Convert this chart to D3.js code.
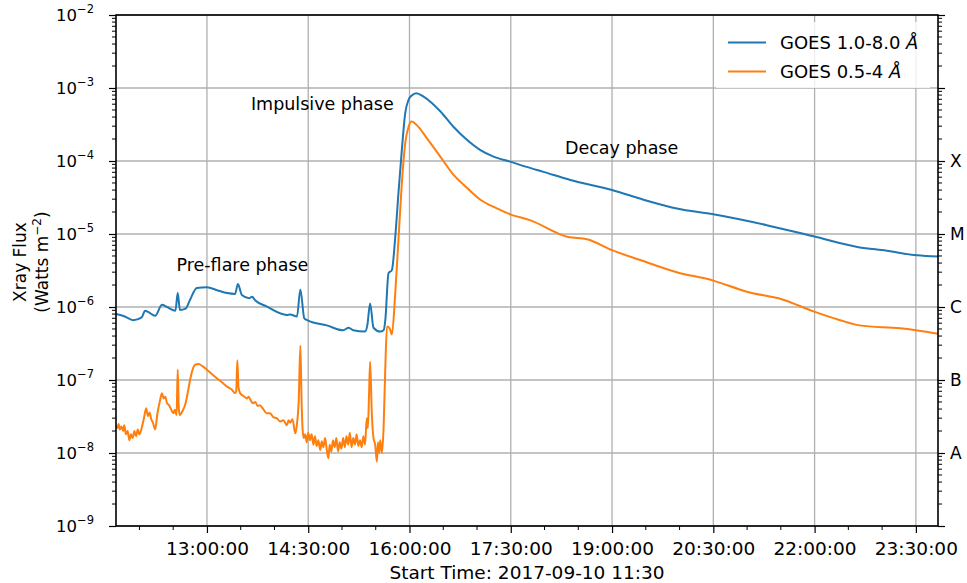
<!DOCTYPE html>
<html>
<head>
<meta charset="utf-8">
<script src="https://cdn.jsdelivr.net/npm/d3@7"></script>
<style>
  html, body { margin: 0; padding: 0; background: #fff; }
  svg { display: block; font-family: "DejaVu Sans", sans-serif; }
</style>
</head>
<body>
<svg id="chart" width="967" height="583"></svg>
<script>
// ---------------- data ----------------
const longTimes = ["11:39:10","11:47:00","11:54:30","12:02:00","12:05:00","12:08:00","12:14:00","12:20:00","12:24:30","12:32:00","12:34:00","12:36:00","12:41:00","12:45:00","12:51:00","13:00:00","13:09:00","13:18:00","13:25:00","13:27:30","13:31:00","13:37:30","13:40:00","13:43:00","13:53:00","14:11:00","14:14:00","14:20:00","14:23:00","14:26:30","14:30:00","14:46:30","15:01:00","15:06:00","15:10:00","15:20:30","15:22:30","15:25:00","15:28:00","15:34:00","15:37:00","15:38:30","15:41:20","15:44:20","15:47:20","15:50:10","15:53:10","15:56:10","15:59:10","16:02:00","16:06:00","16:12:30","16:18:30","16:27:20","16:39:00","16:51:00","17:03:00","17:14:40","17:29:30","17:44:00","17:59:00","18:23:00","19:00:00","19:28:00","19:57:30","20:30:00","21:17:30","21:59:00","22:39:00","23:04:00","23:31:00","23:49:40"];
const longFlux = [8.0e-7,7.4e-7,6.6e-7,7.2e-7,8.9e-7,8.5e-7,7.6e-7,1.07e-6,1.0e-6,8.9e-7,1.55e-6,9.1e-7,9.5e-7,1.26e-6,1.82e-6,1.86e-6,1.70e-6,1.55e-6,1.51e-6,2.07e-6,1.46e-6,1.32e-6,1.38e-6,1.23e-6,1.02e-6,7.8e-7,7.9e-7,7.4e-7,1.74e-6,7.0e-7,6.5e-7,5.6e-7,4.8e-7,5.2e-7,4.8e-7,4.6e-7,5.6e-7,1.12e-6,5.2e-7,4.6e-7,4.8e-7,6.6e-7,2.9e-6,3.2e-6,9.1e-6,3.6e-5,1.41e-4,4.5e-4,6.9e-4,7.9e-4,8.5e-4,7.6e-4,6.5e-4,4.8e-4,2.95e-4,1.95e-4,1.41e-4,1.15e-4,9.8e-5,8.3e-5,7.1e-5,5.5e-5,4.0e-5,2.95e-5,2.24e-5,1.86e-5,1.32e-5,9.3e-6,6.6e-6,5.9e-6,5.1e-6,4.9e-6];

const shortTimes = ["11:39:10","11:40:30","11:41:30","11:42:30","11:44:00","11:45:30","11:46:30","11:48:00","11:49:30","11:51:00","11:52:30","11:54:00","11:55:30","11:57:00","11:58:30","12:00:00","12:02:00","12:04:00","12:06:00","12:07:30","12:09:00","12:10:30","12:12:00","12:14:00","12:16:00","12:18:00","12:20:00","12:21:30","12:23:00","12:24:30","12:26:00","12:28:00","12:30:00","12:31:30","12:33:00","12:34:00","12:35:00","12:36:00","12:38:00","12:41:00","12:43:00","12:45:00","12:47:00","12:49:30","12:52:30","12:56:00","13:00:00","13:04:00","13:09:00","13:13:00","13:18:00","13:22:00","13:25:00","13:26:00","13:27:00","13:28:00","13:29:30","13:32:00","13:35:30","13:37:00","13:39:00","13:41:00","13:43:00","13:45:00","13:47:00","13:50:00","13:53:00","13:56:00","13:59:00","14:02:00","14:05:00","14:08:00","14:11:00","14:12:30","14:14:00","14:16:00","14:18:30","14:20:00","14:21:30","14:23:00","14:24:00","14:25:00","14:26:00","14:27:20","14:28:40","14:30:00","14:31:30","14:33:00","14:34:40","14:36:00","14:37:30","14:39:00","14:40:40","14:42:00","14:43:30","14:45:00","14:46:30","14:48:00","14:49:00","14:50:30","14:52:00","14:53:30","14:55:00","14:56:30","14:58:00","14:59:30","15:01:00","15:02:30","15:04:00","15:05:30","15:07:00","15:08:30","15:10:00","15:11:30","15:13:00","15:14:30","15:16:00","15:17:30","15:19:00","15:20:30","15:22:00","15:23:00","15:24:00","15:25:00","15:26:30","15:28:00","15:29:30","15:31:00","15:32:00","15:33:00","15:34:00","15:35:30","15:37:00","15:38:30","15:40:00","15:42:20","15:44:20","15:47:20","15:50:10","15:53:10","15:56:10","15:59:10","16:02:00","16:06:30","16:15:30","16:27:20","16:39:00","16:51:00","17:03:00","17:17:40","17:29:30","17:47:00","18:21:00","18:37:40","19:00:00","19:25:00","19:57:30","20:30:00","20:59:40","21:32:00","21:59:00","22:22:40","22:40:00","23:16:00","23:49:40"];
const shortFlux = [2.4e-8,2.2e-8,2.5e-8,2.1e-8,2.3e-8,2.0e-8,2.4e-8,1.8e-8,2.0e-8,1.5e-8,1.8e-8,1.6e-8,2.0e-8,1.7e-8,2.1e-8,1.8e-8,2.2e-8,3.0e-8,4.1e-8,3.2e-8,3.6e-8,2.9e-8,2.6e-8,2.1e-8,3.5e-8,5.0e-8,6.6e-8,5.6e-8,5.9e-8,4.8e-8,4.6e-8,4.0e-8,3.5e-8,3.9e-8,3.3e-8,1.38e-7,4.0e-8,3.3e-8,3.7e-8,4.8e-8,6.8e-8,1.0e-7,1.35e-7,1.62e-7,1.66e-7,1.55e-7,1.38e-7,1.22e-7,1.05e-7,9.4e-8,8.1e-8,7.4e-8,6.6e-8,7.0e-8,1.86e-7,8.0e-8,6.6e-8,6.1e-8,5.6e-8,5.9e-8,5.2e-8,4.8e-8,5.0e-8,4.4e-8,4.5e-8,4.0e-8,3.5e-8,3.5e-8,3.1e-8,3.0e-8,2.7e-8,2.8e-8,2.4e-8,2.8e-8,2.6e-8,2.9e-8,1.86e-8,2.5e-8,5.0e-8,2.95e-7,6.0e-8,2.1e-8,1.6e-8,1.8e-8,1.4e-8,1.9e-8,1.5e-8,1.8e-8,1.3e-8,1.7e-8,1.25e-8,1.5e-8,1.1e-8,1.45e-8,1.2e-8,1.6e-8,1.1e-8,8.5e-9,1.3e-8,1.05e-8,1.5e-8,1.2e-8,1.6e-8,1.05e-8,1.4e-8,1.15e-8,1.6e-8,1.2e-8,1.7e-8,1.3e-8,1.9e-8,1.2e-8,1.6e-8,1.3e-8,1.8e-8,1.25e-8,1.5e-8,1.2e-8,1.7e-8,1.3e-8,3.0e-8,2.2e-8,6.0e-8,1.78e-7,3.5e-8,1.6e-8,1.3e-8,7.6e-9,1.4e-8,1.0e-8,1.5e-8,1.0e-8,2.3e-8,1.5e-7,5.4e-7,5.1e-7,4.2e-7,1.55e-6,8.3e-6,4.9e-5,1.74e-4,2.95e-4,3.47e-4,3.1e-4,2.04e-4,1.15e-4,6.5e-5,4.3e-5,2.95e-5,2.24e-5,1.86e-5,1.55e-5,9.1e-6,8.5e-6,6.0e-6,4.4e-6,3.0e-6,2.3e-6,1.62e-6,1.26e-6,8.7e-7,6.6e-7,5.6e-7,5.1e-7,4.3e-7];

const xTickLabels = ["13:00:00","14:30:00","16:00:00","17:30:00","19:00:00","20:30:00","22:00:00","23:30:00"];
const yTickExponents = [-9,-8,-7,-6,-5,-4,-3,-2];
const goesClasses = ["A","B","C","M","X"];
const goesClassExponents = [-8,-7,-6,-5,-4];
const seriesNames = ["GOES 1.0-8.0 ", "GOES 0.5-4 "];
const phaseLabels = ["Pre-flare phase","Impulsive phase","Decay phase"];
const phaseTimes = ["13:31:30","14:42:30","19:08:30"];
const phaseFlux = [3.1e-6, 5.0e-4, 1.25e-4];

// ---------------- layout ----------------
const L = 116, R = 938, T = 15, B = 526;
const colors = ["#1f77b4", "#ff7f0e"];
const day = "2017-09-10 ";
const parse = d3.timeParse("%Y-%m-%d %H:%M:%S");
const fmt = d3.timeFormat("%H:%M:%S");
const P = s => parse(day + s);

const svg = d3.select("#chart");

const x = d3.scaleTime().domain([P("11:39:10"), P("23:49:40")]).range([L, R]);
const y = d3.scaleLog().domain([1e-9, 1e-2]).range([B, T]);

// grid
const majorTimes = xTickLabels.map(P);
const grid = svg.append("g").attr("stroke", "#b0b0b0").attr("stroke-width", 1.3);
grid.selectAll("line.v").data(majorTimes).join("line")
  .attr("x1", d => x(d)).attr("x2", d => x(d)).attr("y1", T).attr("y2", B);
grid.selectAll("line.h").data(yTickExponents.map(e => Math.pow(10, e))).join("line")
  .attr("y1", d => y(d)).attr("y2", d => y(d)).attr("x1", L).attr("x2", R);

// lines
const series = [
  longTimes.map((t, i) => ({t: P(t), v: longFlux[i]})),
  shortTimes.map((t, i) => ({t: P(t), v: shortFlux[i]}))
];
const line = d3.line().x(d => x(d.t)).y(d => y(d.v)).curve(d3.curveMonotoneX);
svg.append("clipPath").attr("id", "clip").append("rect")
  .attr("x", L).attr("y", T).attr("width", R - L).attr("height", B - T);
svg.append("g").attr("clip-path", "url(#clip)").selectAll("path").data(series).join("path")
  .attr("d", line).attr("fill", "none")
  .attr("stroke", (d, i) => colors[i]).attr("stroke-width", 2).attr("stroke-linejoin", "round");

// minor log ticks
const minorVals = [];
for (let e = -9; e < -2; e++) for (let k = 2; k <= 9; k++) minorVals.push(k * Math.pow(10, e));

// left axis
const yAxisL = d3.axisLeft(y).tickValues(yTickExponents.map(e => Math.pow(10, e)))
  .tickFormat(() => "").tickSize(7).tickSizeOuter(0);
const gL = svg.append("g").attr("transform", `translate(${L},0)`).call(yAxisL);
gL.append("g").selectAll("line").data(minorVals).join("line")
  .attr("x1", 0).attr("x2", -4).attr("y1", d => y(d)).attr("y2", d => y(d)).attr("stroke", "#000");
const lblL = svg.append("g").attr("font-size", 16.5).attr("fill", "#000");
yTickExponents.forEach(e => {
  const t = lblL.append("text").attr("x", 56).attr("y", y(Math.pow(10, e)) + 6);
  t.append("tspan").text("10");
  t.append("tspan").attr("dy", -8).attr("font-size", 11.5).text("\u2212" + Math.abs(e));
});

// right axis
const yAxisR = d3.axisRight(y).tickValues(yTickExponents.map(e => Math.pow(10, e)))
  .tickFormat(() => "").tickSize(7).tickSizeOuter(0);
const gR = svg.append("g").attr("transform", `translate(${R},0)`).call(yAxisR);
gR.append("g").selectAll("line").data(minorVals).join("line")
  .attr("x1", 0).attr("x2", 4).attr("y1", d => y(d)).attr("y2", d => y(d)).attr("stroke", "#000");
svg.append("g").attr("font-size", 17).selectAll("text").data(goesClasses).join("text")
  .attr("x", 950).attr("y", (d, i) => y(Math.pow(10, goesClassExponents[i])) + 6)
  .text(d => d);

// bottom axis
const xAxis = d3.axisBottom(x).tickValues(majorTimes).tickFormat(fmt).tickSize(7).tickSizeOuter(0);
const gB = svg.append("g").attr("transform", `translate(0,${B})`).call(xAxis);
gB.selectAll("text").attr("font-size", 18.5).attr("font-family", "DejaVu Sans").attr("dy", "1.05em").attr("fill", "#000");
const minorTimes = d3.timeMinute.every(30).range(x.domain()[0], x.domain()[1])
  .filter(d => !majorTimes.some(m => +m === +d));
gB.append("g").selectAll("line").data(minorTimes).join("line")
  .attr("x1", d => x(d)).attr("x2", d => x(d)).attr("y1", 0).attr("y2", 4).attr("stroke", "#000");

[gL, gR, gB].forEach(g => { g.select(".domain").remove(); g.selectAll(".tick line").attr("stroke", "#000").attr("stroke-width", 1.2); });

// frame
svg.append("rect").attr("x", L).attr("y", T).attr("width", R - L).attr("height", B - T)
  .attr("fill", "none").attr("stroke", "#000").attr("stroke-width", 1.6);

// labels
svg.append("text").attr("x", (L + R) / 2).attr("y", 579).attr("text-anchor", "middle")
  .attr("font-size", 18.5).text("Start Time: 2017-09-10 11:30");
const yl = svg.append("g").attr("transform", "translate(0,262) rotate(-90)").attr("font-size", 17).attr("text-anchor", "middle");
yl.append("text").attr("x", 0).attr("y", 26).text("Xray Flux");
const yl2 = yl.append("text").attr("x", 0).attr("y", 48);
yl2.append("tspan").text("(Watts m");
yl2.append("tspan").attr("dy", -7).attr("font-size", 12).text("\u22122");
yl2.append("tspan").attr("dy", 7).text(")");

// phase annotations
svg.append("g").attr("font-size", 17.5).attr("text-anchor", "middle").selectAll("text")
  .data(phaseLabels).join("text")
  .attr("x", (d, i) => x(P(phaseTimes[i]))).attr("y", (d, i) => y(phaseFlux[i]))
  .text(d => d);

// legend
const lg = svg.append("g");
lg.append("rect").attr("x", 716).attr("y", 22).attr("width", 214).attr("height", 66)
  .attr("fill", "#fff").attr("fill-opacity", 0.8).attr("stroke", "none");
seriesNames.forEach((n, i) => {
  const yy = 42.5 + i * 29;
  lg.append("line").attr("x1", 728).attr("x2", 766).attr("y1", yy).attr("y2", yy)
    .attr("stroke", colors[i]).attr("stroke-width", 2);
  const t = lg.append("text").attr("x", 780).attr("y", yy + 6).attr("font-size", 18);
  t.append("tspan").text(n);
  t.append("tspan").attr("font-style", "italic").text("\u00C5");
});
</script>
</body>
</html>
